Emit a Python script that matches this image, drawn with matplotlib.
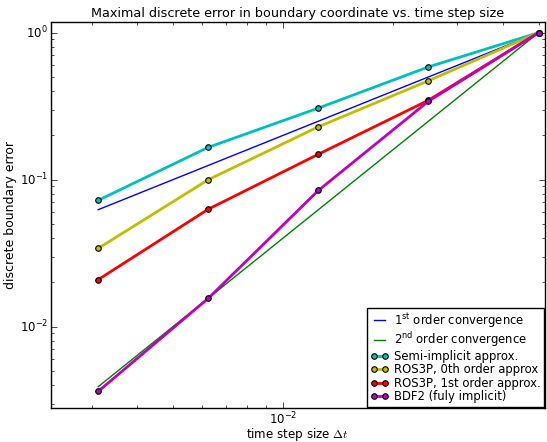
import numpy as np
import matplotlib
matplotlib.use('Agg')
import matplotlib.pyplot as plt

plt.style.use('classic')

# time step sizes
dt = np.array([0.003125, 0.00625, 0.0125, 0.025, 0.05])

# maximal discrete boundary error for each method
err_semi = [0.0724, 0.166, 0.307, 0.585, 1.0]
err_ros0 = [0.0341, 0.100, 0.229, 0.471, 1.0]
err_ros1 = [0.0209, 0.063, 0.149, 0.347, 1.0]
err_bdf2 = [0.00363, 0.0156, 0.0845, 0.342, 1.0]

ref1 = dt / dt[-1]
ref2 = (dt / dt[-1]) ** 2

fig = plt.figure(figsize=(5.47, 4.42), dpi=100, facecolor='white')
ax = fig.add_axes([0.093, 0.078, 0.903, 0.872])

ax.loglog(dt, ref1, 'b-', lw=1, label=r'$\mathregular{1^{st}}$ order convergence')
ax.loglog(dt, ref2, 'g-', lw=1, label=r'$\mathregular{2^{nd}}$ order convergence')
mk = dict(marker='o', markersize=4, markeredgecolor='k', markeredgewidth=0.8, lw=2)
ax.loglog(dt, err_semi, color='c', label='Semi-implicit approx.', **mk)
ax.loglog(dt, err_ros0, color='y', label='ROS3P, 0th order approx', **mk)
ax.loglog(dt, err_ros1, color='r', label='ROS3P, 1st order approx.', **mk)
ax.loglog(dt, err_bdf2, color='m', label='BDF2 (fuly implicit)', **mk)

ax.set_xlim(0.00232, 0.052)
ax.set_ylim(0.00282, 1.18)
ax.tick_params(labelsize=8.5, pad=2)
ax.set_xlabel(r'time step size $\Delta t$', fontsize=8.6, labelpad=-1)
ax.set_ylabel('discrete boundary error', fontsize=9, labelpad=2)
ax.set_title('Maximal discrete error in boundary coordinate vs. time step size',
             fontsize=9.2, pad=4)
ax.legend(loc='lower right', fontsize=8.4, numpoints=2, handlelength=1.5,
          borderaxespad=0.05, labelspacing=0.05, handletextpad=0.5,
          borderpad=0.3, fancybox=False)

fig.savefig('out.png', dpi=100, facecolor='white')
